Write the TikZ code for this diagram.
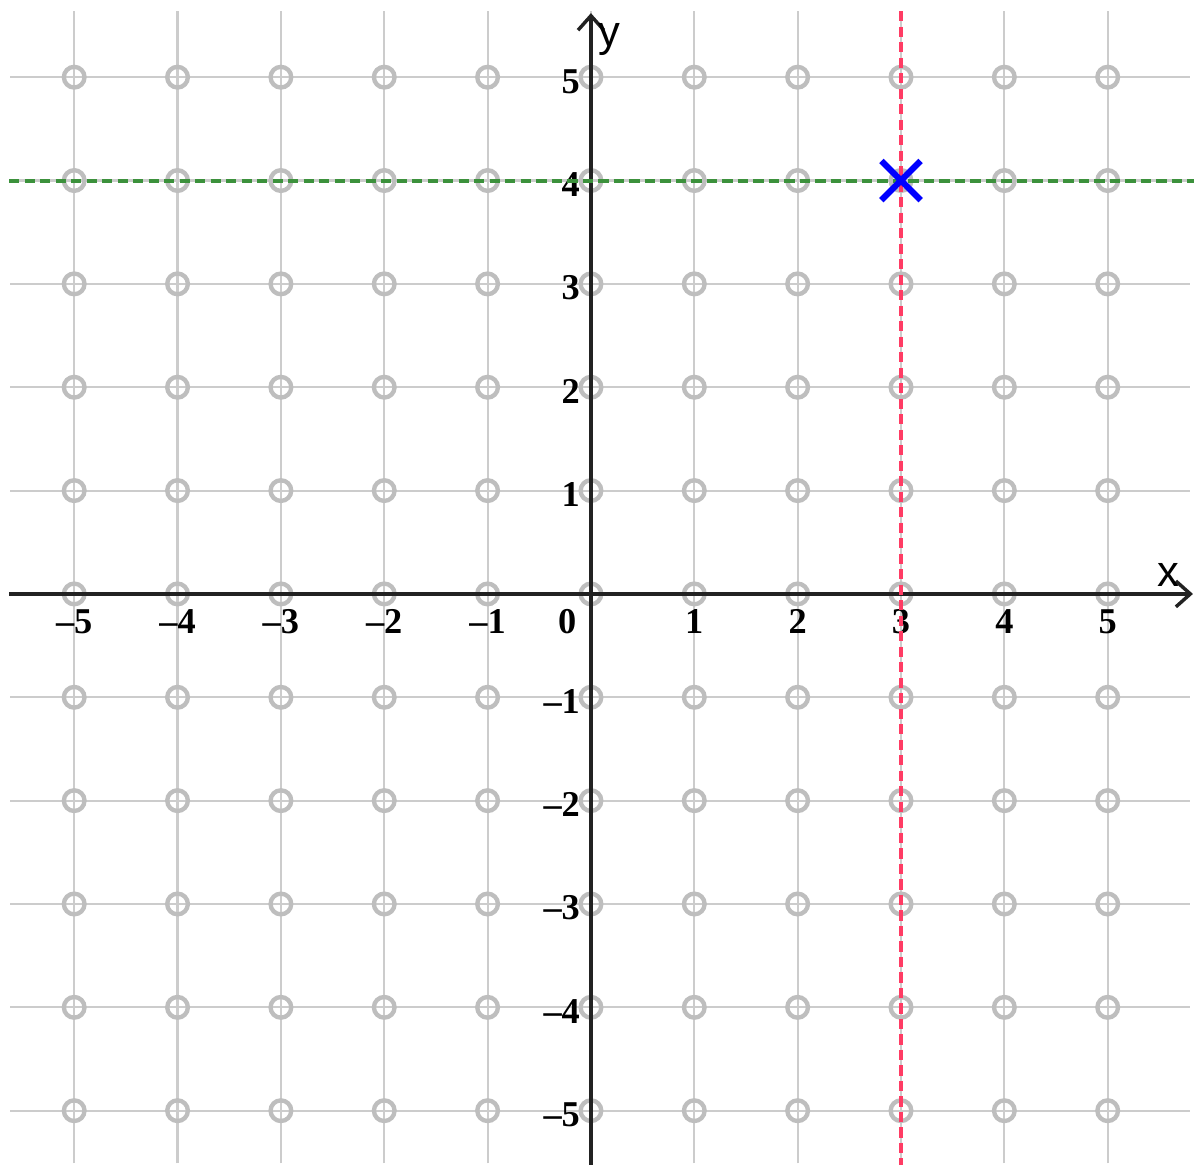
\documentclass[tikz,border=0pt]{standalone}
\usepackage{fontspec}
\setmainfont{Liberation Serif}
\setsansfont{Liberation Sans}
\usetikzlibrary{arrows.meta,calc,shapes.misc}

\definecolor{gridgray}{RGB}{204,204,204}
\definecolor{ringgray}{RGB}{190,190,190}
\definecolor{axisblack}{RGB}{34,34,34}
\definecolor{hgreen}{RGB}{60,145,60}
\definecolor{vred}{RGB}{255,60,100}

\tikzset{
  gridline/.style={gridgray,line width=0.6pt},
  ring/.style={ringgray,line width=1.2pt},
  axis/.style={axisblack,line width=0.95pt,
    -{Straight Barb[length=1.4mm,width=2.5mm]}},
  ticklab/.style={inner sep=0pt,font=\fontsize{10}{12}\selectfont\bfseries},
  axislab/.style={inner sep=0pt,font=\fontsize{12}{14}\selectfont\sffamily},
  guide/.style={line width=1.1pt,dash pattern=on 1mm off 0.5mm},
}

\begin{document}
\begin{tikzpicture}
\useasboundingbox (-5.718,-5.525) rectangle (5.835,5.747);

% grid
\foreach \i in {-5,...,5}{
  \draw[gridline] (\i,-5.51) -- (\i,5.64);
  \draw[gridline] (-5.62,\i) -- (5.80,\i);
}

% lattice points
\foreach \i in {-5,...,5}
  \foreach \j in {-5,...,5}
    \draw[ring] (\i,\j) circle (0.1);

% axes
\coordinate (xs) at (-5.63,0);
\coordinate (xe) at (5.825,0);
\coordinate (ys) at (0,-5.525);
\coordinate (ye) at (0,5.62);
\draw[axis] (xs) -- (xe);
\draw[axis] (ys) -- (ye);

\node[axislab] (xname) at (5.59,0.18) {x};
\node[axislab] (yname) at (0.18,5.36) {y};

% tick labels
\foreach \i/\t in {-5/–5,-4/–4,-3/–3,-2/–2,-1/–1,1/1,2/2,3/3,4/4,5/5}{
  \node[ticklab] (xl\i) at (\i,-0.27) {\t};
  \node[ticklab,anchor=east] (yl\i) at (-0.1,\i-0.04) {\t};
}
\node[ticklab] (orig) at (-0.23,-0.27) {0};

% guide lines through the point
\coordinate (gl) at (-5.63,4);
\coordinate (gr) at (5.835,4);
\coordinate (rt) at (3,5.64);
\coordinate (rb) at (3,-5.525);
\draw[guide,hgreen] (gl) -- (gr);
\draw[guide,vred] (rt) -- (rb);

% the point
\node[cross out,draw=blue,line width=1.7pt,minimum size=0.32cm,inner sep=0pt] (P) at (3,4) {};

\end{tikzpicture}
\end{document}
